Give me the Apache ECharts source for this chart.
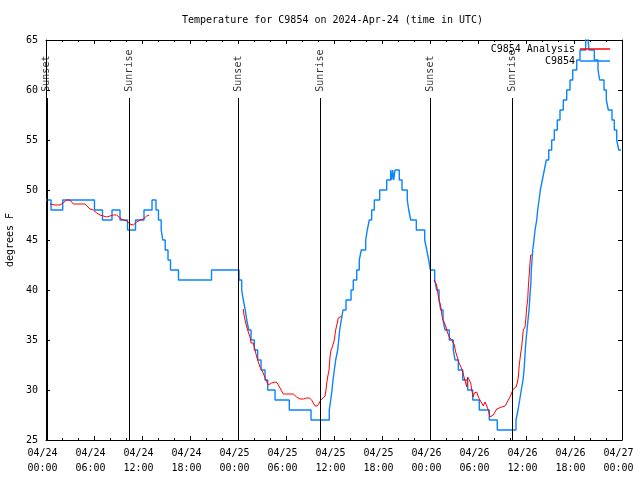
<!DOCTYPE html>
<html><head><meta charset="utf-8">
<script src="https://cdn.jsdelivr.net/npm/echarts@6/dist/echarts.min.js"></script>
<style>html,body{margin:0;padding:0;background:#fff}#c{width:640px;height:480px}</style>
</head><body><div id="c"></div>
<script>
// hours since 04/24 00:00 UTC
const xTickLabels = ['04/24\n00:00','04/24\n06:00','04/24\n12:00','04/24\n18:00','04/25\n00:00','04/25\n06:00','04/25\n12:00','04/25\n18:00','04/26\n00:00','04/26\n06:00','04/26\n12:00','04/26\n18:00','04/27\n00:00'];

// C9854 observations (change points of the 1-degree steps)
const blueTimes = [0,0.63,2.09,6.06,7.06,8.25,9.25,10.19,11.19,12.25,
 13.25,13.75,14.06,14.4,14.6,14.9,15.25,15.56,16.56,20.69,
 24.13,24.46,24.66,24.91,25.09,25.34,25.63,26.04,26.46,26.88,
 27.38,27.71,28.63,30.41,33.13,35.41,35.59,35.75,35.88,36.04,
 36.21,36.46,36.59,36.71,36.91,37.13,37.5,38.13,38.41,38.84,
 39.16,39.41,39.96,40.16,40.41,40.71,41.04,41.71,42.59,43.09,
 43.21,43.34,43.46,43.63,44.16,44.5,45.16,45.34,45.59,46.29,
 47.34,47.59,47.84,48.04,48.59,48.84,49.13,49.34,49.63,49.88,
 50.41,50.91,51.13,51.54,52.09,52.71,53.34,54.16,55.41,56.41,
 58.75,59.0,59.21,59.41,59.63,59.75,59.84,59.91,60.0,60.13,
 60.25,60.38,60.46,60.54,60.63,60.66,60.75,60.84,61.0,61.13,
 61.34,61.46,61.63,61.79,62.04,62.29,62.54,62.84,63.21,63.54,
 63.91,64.25,64.66,65.09,65.5,65.84,66.34,66.75,67.46,67.59,
 67.75,67.88,68.54,69.0,69.21,69.75,70.04,70.29,70.75,71.04,
 71.34,71.59,71.88];
const blueTemps = [49,48,49,48,47,48,47,46,47,48,
 49,48,47,46,45,44,43,42,41,42,
 41,40,39,38,37,36,35,34,33,32,
 31,30,29,28,27,28,29,30,31,32,
 33,34,35,36,37,38,39,40,41,42,
 43,44,45,46,47,48,49,50,51,52,
 51,52,51,52,51,50,49,48,47,46,
 45,44,43,42,41,40,39,38,37,36,
 35,34,33,32,31,30,29,28,27,26,
 27,28,29,30,31,32,33,34,35,36,
 37,38,39,40,41,42,43,44,45,46,
 47,48,49,50,51,52,53,54,55,56,
 57,58,59,60,61,62,63,64,65,66,
 65,64,63,62,61,60,59,58,57,56,
 55,54,54];

// C9854 Analysis (null = gap)
const redTimes = [0.5,1.13,1.75,2.13,2.59,3.0,3.41,3.63,4.25,4.88,5.09,5.5,5.91,6.34,6.75,7.16,7.59,8.0,8.41,8.84,9.25,9.66,10.09,10.5,10.91,11.34,11.75,12.16,12.59,12.91,
 18,
 24.66,24.75,24.88,25.09,25.29,25.5,25.63,25.91,26.13,26.34,26.54,26.75,26.96,27.16,27.38,27.59,27.79,28.0,28.21,28.63,28.91,29.25,29.66,30.09,30.5,30.91,31.34,31.75,32.16,32.59,32.91,33.21,33.41,33.63,33.91,34.16,34.34,34.59,34.88,35.0,35.09,35.21,35.38,35.5,35.63,35.79,35.91,36.04,36.21,36.41,36.54,36.75,36.96,
 42,
 48.5,48.84,48.91,49.13,49.34,49.54,49.75,50.0,50.16,50.41,50.71,50.91,51.04,51.21,51.41,51.63,51.84,52.04,52.25,52.46,52.59,52.71,52.88,53.09,53.21,53.41,53.54,53.84,54.04,54.25,54.46,54.66,54.88,55.09,55.29,55.5,55.71,55.91,56.13,56.34,56.54,56.96,57.38,57.59,57.79,58.0,58.21,58.41,58.75,58.91,59.04,59.16,59.34,59.46,59.66,59.88,60.0,60.09,60.21,60.29,60.38,60.5,60.59,60.71];
const redTemps = [48.6,48.5,48.5,48.7,49.0,49.0,48.6,48.5,48.6,48.6,48.4,48.1,48.0,47.7,47.5,47.4,47.3,47.4,47.5,47.5,47.2,47.0,46.9,46.6,46.5,46.8,47.0,47.1,47.4,47.5,
 null,
 38.1,37.5,37.0,36.3,35.8,35.3,34.7,34.7,34.0,33.3,32.8,32.3,32.0,31.7,31.2,31.0,30.5,30.5,30.7,30.8,30.7,30.2,29.6,29.6,29.6,29.6,29.3,29.1,29.1,29.2,29.2,29.0,28.7,28.4,28.4,28.7,29.0,29.2,29.4,30.0,30.7,31.3,32.0,33.3,34.0,34.3,34.4,35.0,36.0,36.7,37.2,37.3,37.4,
 null,
 41.0,40.5,40.0,39.0,38.4,37.2,36.8,36.3,35.8,35.3,35.0,35.0,34.5,33.8,33.3,32.7,32.7,32.0,31.3,30.7,30.3,31.3,31.5,30.7,30.0,29.3,29.7,29.8,29.3,29.0,28.7,28.4,28.8,28.7,28.0,27.3,27.2,27.5,27.8,28.1,28.3,28.3,28.4,28.7,29.0,29.3,29.7,30.1,30.3,30.7,31.3,32.5,33.7,34.3,36.0,36.3,37.3,38.3,39.0,40.3,41.3,42.7,43.5,43.5];

// sunrise / sunset markers
const sunTimes = [0.1,10.42,24.04,34.25,48.0,58.3];
const sunNames = ['Sunset','Sunrise','Sunset','Sunrise','Sunset','Sunrise'];

const FONT = 'DejaVu Sans Mono';
const chart = echarts.init(document.getElementById('c'), null, {renderer:'canvas'});

const blueData = blueTimes.map((t,i)=>[t, blueTemps[i]]);
const redData = redTimes.map((t,i)=>[t, redTemps[i]===null ? '-' : redTemps[i]]);
const sunLabelData = sunTimes.map(t=>[t, 59.83]);
const sunLines = sunTimes.map(t=>[{coord:[t,25]},{coord:[t,59.2]}]);

const baseX = {
  type:'value', min:0, max:72, interval:6,
  axisLine:{show:true, onZero:false, lineStyle:{color:'#000', width:1}},
  axisTick:{show:true, inside:true, length:4, lineStyle:{color:'#000'}},
  minorTick:{show:true, splitNumber:3, length:2, lineStyle:{color:'#000'}},
  splitLine:{show:false}, minorSplitLine:{show:false}
};
const baseY = {
  type:'value', min:25, max:65, interval:5,
  axisLine:{show:true, onZero:false, lineStyle:{color:'#000', width:1}},
  axisTick:{show:true, inside:true, length:4, lineStyle:{color:'#000'}},
  splitLine:{show:false}
};
const legendCommon = {orient:'vertical', align:'right', padding:0, icon:'rect',
  itemWidth:30, itemHeight:1.5, itemStyle:{borderWidth:0},
  textStyle:{fontFamily:FONT, fontSize:10, color:'#000'}};

chart.setOption({
  animation:false,
  backgroundColor:'#fff',
  title:{
    text:'Temperature for C9854 on 2024-Apr-24 (time in UTC)',
    left:182, top:14, padding:0,
    textStyle:{fontFamily:FONT, fontSize:10, fontWeight:'normal', color:'#000', lineHeight:12}
  },
  grid:{left:46, right:18, top:40, bottom:40, containLabel:false, outerBoundsMode:'none'},
  legend:[
    Object.assign({}, legendCommon, {data:['C9854 Analysis'], right:30, top:44}),
    Object.assign({}, legendCommon, {data:['C9854'], right:30, top:56})
  ],
  xAxis:[
    Object.assign({}, baseX, {position:'bottom',
      axisLabel:{show:true, margin:6, fontFamily:FONT, fontSize:10, lineHeight:15, color:'#000',
        padding:[0,7,0,0], hideOverlap:false, showMinLabel:true, showMaxLabel:true,
        formatter:v=>xTickLabels[Math.round(v/6)]}}),
    Object.assign({}, baseX, {position:'top', axisLabel:{show:false}})
  ],
  yAxis:[
    Object.assign({}, baseY, {position:'left',
      name:'degrees F', nameLocation:'middle', nameRotate:90, nameGap:31,
      nameTextStyle:{fontFamily:FONT, fontSize:10, color:'#000'},
      axisLabel:{show:true, margin:8, fontFamily:FONT, fontSize:10, color:'#000', showMinLabel:true, showMaxLabel:true}}),
    Object.assign({}, baseY, {position:'right', axisLabel:{show:false}})
  ],
  series:[
    {name:'C9854 Analysis', type:'line', data:redData, showSymbol:false, symbol:'none',
     color:'#ff0000', lineStyle:{color:'#ff0000', width:1}, connectNulls:false, clip:true, z:3},
    {name:'C9854', type:'line', data:blueData, step:'end', showSymbol:false, symbol:'none',
     color:'#0a84ff', lineStyle:{color:'#0a84ff', width:1.4}, clip:true, z:2},
    {name:'sun', type:'scatter', data:sunLabelData, symbolSize:0, silent:true, z:4,
     label:{show:true, position:'right', distance:0, rotate:90,
       formatter:p=>sunNames[p.dataIndex], fontFamily:FONT, fontSize:10, color:'#000'},
     markLine:{silent:true, symbol:['none','none'], label:{show:false},
       lineStyle:{color:'#000', width:1, type:'solid'}, data:sunLines}}
  ]
});
</script>
</body></html>
